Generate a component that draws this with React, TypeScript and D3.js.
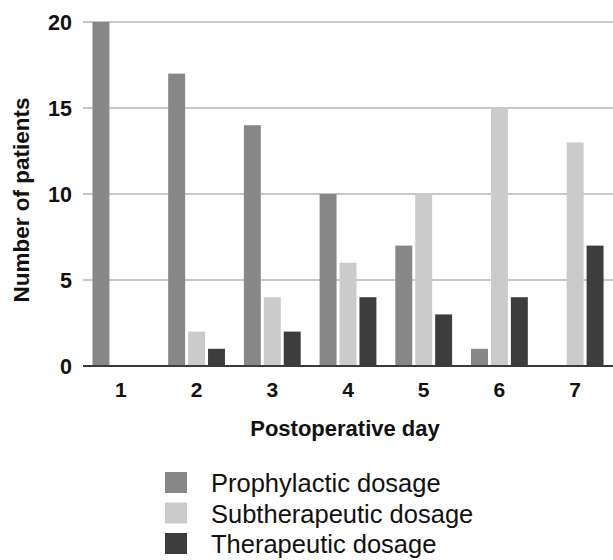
import React from "react";
import * as d3 from "d3";

const days = ["1", "2", "3", "4", "5", "6", "7"];
const seriesNames = ["Prophylactic dosage", "Subtherapeutic dosage", "Therapeutic dosage"];
const prophylactic = [20, 17, 14, 10, 7, 1, 0];
const subtherapeutic = [0, 2, 4, 6, 10, 15, 13];
const therapeutic = [0, 1, 2, 4, 3, 4, 7];
const yTicks = [0, 5, 10, 15, 20];
const colors = ["#878787", "#cbcbcb", "#3d3d3d"];

const W = 613;
const H = 560;
const left = 83;
const right = 613;
const y0 = 366;
const yTop = 22;

export default function App() {
  const series = [prophylactic, subtherapeutic, therapeutic];
  const x = d3.scaleBand<string>().domain(days).range([left, right]).paddingInner(0.25).paddingOuter(0.125);
  const xs = d3
    .scaleBand<string>()
    .domain(seriesNames)
    .range([0, x.bandwidth()])
    .paddingInner(0.15)
    .paddingOuter(0);
  const y = d3.scaleLinear().domain([0, 20]).range([y0, yTop]);
  const font = "'Liberation Sans', Arial, Helvetica, sans-serif";

  return (
    <svg
      width={W}
      height={H}
      style={{ position: "absolute", left: 0, top: 0, background: "#fff" }}
      fontFamily={font}
    >
      {yTicks
        .filter((t) => t > 0)
        .map((t) => (
          <line key={"g" + t} x1={left} x2={right} y1={y(t)} y2={y(t)} stroke="#b4b4b4" strokeWidth={1.6} />
        ))}
      {days.map((d, i) => (
        <g key={d}>
          {series.map((s, k) =>
            s[i] > 0 ? (
              <rect
                key={k}
                x={(x(d) as number) + (xs(seriesNames[k]) as number)}
                y={y(s[i])}
                width={xs.bandwidth()}
                height={y(0) - y(s[i])}
                fill={colors[k]}
              />
            ) : null
          )}
        </g>
      ))}
      <line x1={left} x2={right} y1={y(0)} y2={y(0)} stroke="#3a3a3a" strokeWidth={2} />
      {yTicks.map((t) => (
        <text
          key={"t" + t}
          x={72}
          y={y(t)}
          dy="0.36em"
          textAnchor="end"
          fontSize={21.5}
          fontWeight="bold"
          fill="#111"
        >
          {t}
        </text>
      ))}
      {days.map((d) => (
        <text
          key={"x" + d}
          x={(x(d) as number) + x.bandwidth() / 2}
          y={397}
          textAnchor="middle"
          fontSize={21}
          fontWeight="bold"
          fill="#111"
        >
          {d}
        </text>
      ))}
      <text x={345} y={436} textAnchor="middle" fontSize={22} fontWeight="bold" fill="#111">
        Postoperative day
      </text>
      <text
        transform={`translate(${29},${200}) rotate(-90)`}
        textAnchor="middle"
        fontSize={22.5}
        fontWeight="bold"
        fill="#111"
      >
        Number of patients
      </text>
      {seriesNames.map((n, k) => (
        <g key={n} transform={`translate(165,${472 + k * 30.5})`}>
          <rect x={0} y={0} width={22} height={21} fill={colors[k]} />
          <text x={46} y={20} fontSize={25.5} fill="#111">
            {n}
          </text>
        </g>
      ))}
    </svg>
  );
}
